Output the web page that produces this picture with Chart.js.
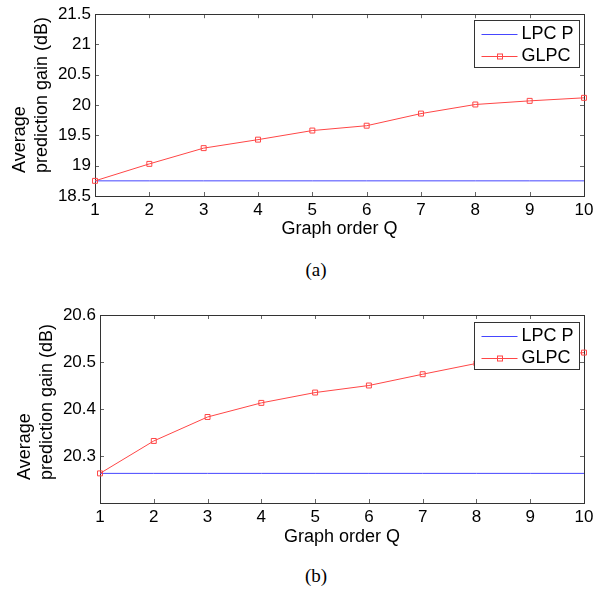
<!DOCTYPE html>
<html>
<head>
<meta charset="utf-8">
<script src="https://cdn.jsdelivr.net/npm/chart.js@4.4.0/dist/chart.umd.min.js"></script>
<style>
  body { margin: 0; background: #fff; }
  #wrap { position: relative; width: 611px; height: 592px; }
  canvas { position: absolute; left: 0; }
  .cap { position: absolute; left: 286px; width: 60px; text-align: center; font-family: 'Liberation Serif', serif; font-size: 19px; line-height: 20px; }
</style>
</head>
<body>
<div id="wrap">
  <canvas id="chartA" width="611" height="250" style="top:0"></canvas>
  <div class="cap" style="top:260px">(a)</div>
  <canvas id="chartB" width="611" height="268" style="top:290px"></canvas>
  <div class="cap" style="top:566px">(b)</div>
</div>
<script>
// graph orders on the x axis
const orders = ['1', '2', '3', '4', '5', '6', '7', '8', '9', '10'];
const seriesNames = ['LPC P', 'GLPC'];
const xTitle = 'Graph order Q';
const yTitleLines = ['Average', 'prediction gain (dB)'];

// panel (a)
const lpcA = [18.75, 18.75, 18.75, 18.75, 18.75, 18.75, 18.75, 18.75, 18.75, 18.75];
const glpcA = [18.75, 19.03, 19.29, 19.43, 19.58, 19.66, 19.86, 20.01, 20.07, 20.12];
const yTicksA = [18.5, 19, 19.5, 20, 20.5, 21, 21.5];
const yLabelsA = ['18.5', '19', '19.5', '20', '20.5', '21', '21.5'];

// panel (b)
const lpcB = [20.263, 20.263, 20.263, 20.263, 20.263, 20.263, 20.263, 20.263, 20.263, 20.263];
const glpcB = [20.263, 20.332, 20.383, 20.413, 20.435, 20.450, 20.474, 20.497, 20.510, 20.520];
const yTicksB = [20.2, 20.3, 20.4, 20.5, 20.6];
const yLabelsB = ['', '20.3', '20.4', '20.5', '20.6'];

Chart.defaults.font.family = "'Liberation Sans', Arial, sans-serif";
Chart.defaults.color = '#000';

// box around the plot with inward tick marks (matlab style)
const frame = {
  id: 'frame',
  beforeDatasetsDraw(chart) {
    const { ctx, chartArea: a, scales: { x, y } } = chart;
    ctx.save();
    ctx.strokeStyle = '#666';
    ctx.lineWidth = 1;
    ctx.beginPath();
    x.ticks.forEach((t, i) => {
      const px = Math.round(x.getPixelForTick(i)) + 0.5;
      ctx.moveTo(px, a.bottom); ctx.lineTo(px, a.bottom - 4);
      ctx.moveTo(px, a.top); ctx.lineTo(px, a.top + 4);
    });
    y.ticks.forEach(t => {
      const py = Math.round(y.getPixelForValue(t.value)) + 0.5;
      ctx.moveTo(a.left, py); ctx.lineTo(a.left + 4, py);
      ctx.moveTo(a.right, py); ctx.lineTo(a.right - 4, py);
    });
    ctx.stroke();
    ctx.strokeStyle = '#333';
    ctx.strokeRect(Math.round(a.left) + 0.5, Math.round(a.top) + 0.5, Math.round(a.width), Math.round(a.height));
    ctx.restore();
  }
};

// legend box inside the plot, top right
const boxLegend = {
  id: 'boxLegend',
  afterDatasetsDraw(chart, args, o) {
    const { ctx, chartArea: a } = chart;
    const w = 105, h = 47;
    const x0 = Math.round(a.right - 110) + 0.5;
    const y0 = Math.round(a.top + o.top) + 0.5;
    ctx.save();
    ctx.fillStyle = '#fff';
    ctx.fillRect(x0, y0, w, h);
    ctx.strokeStyle = '#333';
    ctx.lineWidth = 1;
    ctx.strokeRect(x0, y0, w, h);
    ctx.font = "18px 'Liberation Sans'";
    ctx.textBaseline = 'middle';
    ctx.textAlign = 'left';
    chart.data.datasets.forEach((ds, i) => {
      const yy = Math.round(y0 + 13 + i * 22) + 0.5;
      ctx.strokeStyle = ds.borderColor;
      ctx.beginPath();
      ctx.moveTo(x0 + 7, yy); ctx.lineTo(x0 + 43, yy);
      ctx.stroke();
      if (ds.pointRadius > 0) ctx.strokeRect(x0 + 23, yy - 2.5, 5, 5);
      ctx.fillStyle = '#000';
      ctx.fillText(ds.label, x0 + 47, yy);
    });
    ctx.restore();
  }
};

// two-line y title, left aligned like the original
const yTitle = {
  id: 'yTitle',
  afterDraw(chart) {
    const { ctx, chartArea: a } = chart;
    const dx = [-75, -53];
    ctx.save();
    ctx.font = "18px 'Liberation Sans'";
    ctx.fillStyle = '#000';
    ctx.textAlign = 'left';
    ctx.textBaseline = 'middle';
    yTitleLines.forEach((t, i) => {
      ctx.save();
      ctx.translate(a.left + dx[i], a.bottom - 23);
      ctx.rotate(-Math.PI / 2);
      ctx.fillText(t, 0, 0);
      ctx.restore();
    });
    ctx.restore();
  }
};

function makeChart(id, lpc, glpc, yTicks, yLabels, d) {
  return new Chart(document.getElementById(id), {
    type: 'line',
    data: {
      labels: orders,
      datasets: [
        {
          label: seriesNames[0],
          data: lpc,
          borderColor: 'rgb(70,70,255)',
          borderWidth: 1,
          pointRadius: 0,
          clip: false,
          order: 1
        },
        {
          label: seriesNames[1],
          data: glpc,
          borderColor: 'rgb(255,70,70)',
          borderWidth: 1,
          pointStyle: 'rect',
          pointRadius: 3.5,
          pointBorderWidth: 1,
          pointBorderColor: 'rgb(255,70,70)',
          pointBackgroundColor: 'rgba(0,0,0,0)',
          clip: false,
          order: 0
        }
      ]
    },
    options: {
      responsive: false,
      animation: false,
      events: [],
      layout: { autoPadding: false, padding: { left: 0, top: d.top, right: 27, bottom: 0 } },
      plugins: {
        legend: { display: false },
        tooltip: { enabled: false },
        boxLegend: { top: d.legendTop }
      },
      scales: {
        x: {
          type: 'category',
          offset: false,
          grid: { display: false, drawTicks: false },
          border: { display: false },
          ticks: { font: { size: 17 }, padding: 4.5, maxRotation: 0, autoSkip: false },
          title: { display: true, text: xTitle, font: { size: 18 }, padding: { top: 0, bottom: d.titlePad } },
          afterFit: s => { s.height = d.xH; }
        },
        y: {
          min: yTicks[0],
          max: yTicks[yTicks.length - 1],
          grid: { display: false, drawTicks: false },
          border: { display: false },
          afterBuildTicks: s => { s.ticks = yTicks.map(v => ({ value: v })); },
          ticks: { font: { size: 17 }, padding: 4, callback: (v, i) => yLabels[i] },
          afterFit: s => { s.width = d.yW; }
        }
      }
    },
    plugins: [frame, boxLegend, yTitle]
  });
}

makeChart('chartA', lpcA, glpcA, yTicksA, yLabelsA, { top: 7, yW: 95, xH: 54, titlePad: 10, legendTop: 6 });
makeChart('chartB', lpcB, glpcB, yTicksB, yLabelsB, { top: 25, yW: 100, xH: 55, titlePad: 10.5, legendTop: 7 });
</script>
</body>
</html>
